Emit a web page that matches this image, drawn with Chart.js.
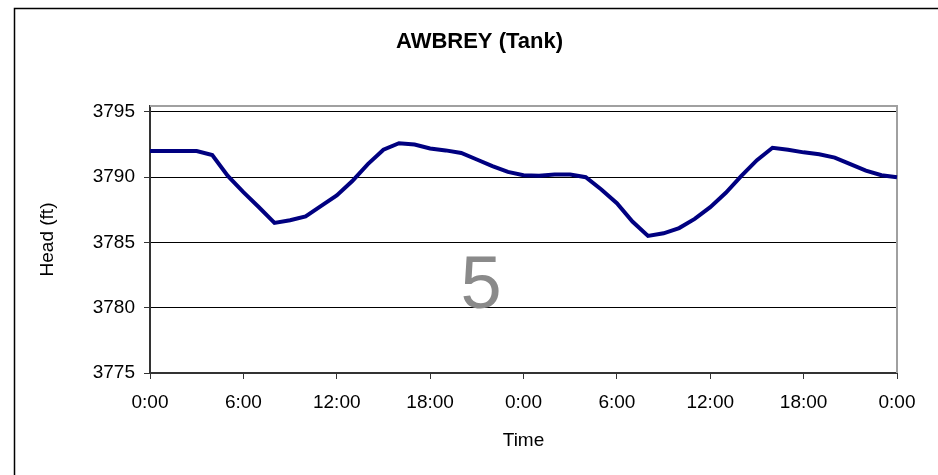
<!DOCTYPE html>
<html>
<head>
<meta charset="utf-8">
<title>AWBREY (Tank)</title>
<script src="https://cdn.jsdelivr.net/npm/chart.js@4"></script>
<style>
  html, body { margin: 0; padding: 0; background: #fff; overflow: hidden; }
  #wrap { width: 938px; height: 475px; position: relative; }
</style>
</head>
<body>
<div id="wrap"><canvas id="headChart"></canvas></div>
<script>
// hourly samples over two days
const timeLabels = [
    '0:00', '1:00', '2:00', '3:00', '4:00', '5:00', '6:00', '7:00', '8:00', '9:00', '10:00', '11:00',
    '12:00', '13:00', '14:00', '15:00', '16:00', '17:00', '18:00', '19:00', '20:00', '21:00', '22:00', '23:00',
    '0:00', '1:00', '2:00', '3:00', '4:00', '5:00', '6:00', '7:00', '8:00', '9:00', '10:00', '11:00',
    '12:00', '13:00', '14:00', '15:00', '16:00', '17:00', '18:00', '19:00', '20:00', '21:00', '22:00', '23:00',
    '0:00'
];
const headFt = [
    3792.0, 3792.0, 3792.0, 3792.0, 3791.7, 3790.1, 3788.85, 3787.7, 3786.5, 3786.7, 3787.0, 3787.8,
    3788.6, 3789.7, 3791.0, 3792.1, 3792.6, 3792.5, 3792.2, 3792.05, 3791.85, 3791.35, 3790.85, 3790.4,
    3790.15, 3790.1, 3790.2, 3790.2, 3790.0, 3789.05, 3788.0, 3786.6, 3785.5, 3785.7, 3786.1, 3786.8,
    3787.7, 3788.8, 3790.1, 3791.3, 3792.25, 3792.1, 3791.9, 3791.75, 3791.5, 3791.0, 3790.5, 3790.15,
    3790.0
];
const yTicks = [3775, 3780, 3785, 3790, 3795];
const chartTitle = 'AWBREY (Tank)';
const pageMark = '5';

const FONT = "'Liberation Sans', Arial, sans-serif";

// frame, plot border, title and the big page number
const decorations = {
    id: 'decorations',
    beforeDraw(chart) {
        const c = chart.ctx;
        c.save();
        c.strokeStyle = '#000';
        c.lineWidth = 1.5;
        c.strokeRect(14.5, 8.5, 1000, 1000);
        c.fillStyle = '#000';
        c.font = 'bold 22px ' + FONT;
        c.textAlign = 'center';
        c.textBaseline = 'middle';
        c.fillText(chartTitle, 479.5, 42);
        c.restore();
    },
    beforeDatasetsDraw(chart) {
        const {ctx: c, chartArea: a} = chart;
        c.save();
        c.fillStyle = '#8a8a8a';
        c.font = '74px ' + FONT;
        c.textAlign = 'center';
        c.textBaseline = 'middle';
        c.fillText(pageMark, 481, 288);
        c.strokeStyle = '#a0a0a0';
        c.lineWidth = 2;
        c.beginPath();
        c.moveTo(a.left, a.top);
        c.lineTo(a.right, a.top);
        c.lineTo(a.right, a.bottom);
        c.stroke();
        c.restore();
    }
};

const ctx = document.getElementById('headChart').getContext('2d');
new Chart(ctx, {
    type: 'line',
    data: {
        labels: timeLabels,
        datasets: [{
            data: headFt,
            borderColor: '#000080',
            borderWidth: 4,
            pointRadius: 0,
            tension: 0,
            fill: false
        }]
    },
    options: {
        responsive: true,
        maintainAspectRatio: false,
        animation: false,
        layout: { padding: { left: 0, right: 41, top: 106, bottom: 0 } },
        plugins: {
            legend: { display: false },
            tooltip: { enabled: false }
        },
        scales: {
            x: {
                type: 'category',
                offset: false,
                grid: {
                    drawOnChartArea: false,
                    drawTicks: true,
                    tickLength: 6,
                    tickColor: (c) => (c.index % 6 === 0 ? '#333' : 'rgba(0,0,0,0)')
                },
                border: { color: '#333', width: 2 },
                ticks: {
                    autoSkip: false,
                    maxRotation: 0,
                    padding: 12,
                    color: '#000',
                    font: { family: FONT, size: 19 },
                    callback: function (value, index) {
                        return index % 6 === 0 ? timeLabels[index] : '';
                    }
                },
                title: {
                    display: true,
                    text: 'Time',
                    color: '#000',
                    font: { family: FONT, size: 19 },
                    padding: { top: 0, bottom: 23 }
                },
                afterFit: (scale) => { scale.height = 102; }
            },
            y: {
                min: 3775,
                max: 3795.45,
                afterBuildTicks: (scale) => { scale.ticks = yTicks.map(v => ({ value: v })); },
                grid: {
                    color: '#000',
                    lineWidth: 1,
                    tickLength: 6,
                    tickColor: '#333'
                },
                border: { color: '#333', width: 2 },
                ticks: {
                    padding: 9,
                    color: '#000',
                    font: { family: FONT, size: 19 },
                    callback: (v) => String(v)
                },
                title: {
                    display: true,
                    text: 'Head (ft)',
                    color: '#000',
                    font: { family: FONT, size: 19 },
                    padding: { top: 36, bottom: 0 }
                },
                afterFit: (scale) => { scale.width = 150; }
            }
        }
    },
    plugins: [decorations]
});
</script>
</body>
</html>
